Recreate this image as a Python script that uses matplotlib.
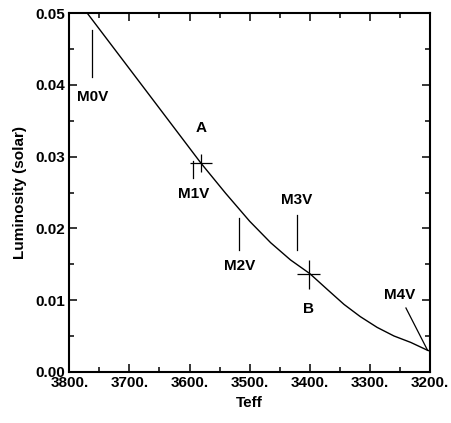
import matplotlib
matplotlib.use("Agg")
import matplotlib.pyplot as plt
from matplotlib.ticker import MultipleLocator, FormatStrFormatter

plt.rcParams['font.family'] = ['Liberation Sans', 'DejaVu Sans']
plt.rcParams['font.weight'] = 'bold'

# Main-sequence relation (Teff, Luminosity)
teff_curve = [3770, 3675, 3581, 3540, 3500, 3465, 3432, 3400, 3371, 3343, 3316, 3288, 3260, 3232, 3204, 3200]
lum_curve = [0.0500, 0.0395, 0.0291, 0.0249, 0.0210, 0.0180, 0.0156, 0.0137, 0.0115, 0.0094, 0.0077, 0.0062, 0.0050, 0.0041, 0.0030, 0.0029]

# Measured stars with error bars
star_names = ['A', 'B']
star_teff = [3581, 3402]
star_lum = [0.0291, 0.0136]
star_teff_err = [18, 19]
star_lum_err = [0.0013, 0.0020]
star_label_lum = [0.0340, 0.0087]

# Spectral type markers: vertical line (teff, lum_top, lum_bottom) and label position
sp_names = ['M0V', 'M1V', 'M2V', 'M3V']
sp_teff = [3762, 3594, 3517, 3422]
sp_lum_top = [0.0477, 0.0294, 0.0214, 0.0219]
sp_lum_bot = [0.0411, 0.0270, 0.0170, 0.0170]
sp_label_lum = [0.0383, 0.0248, 0.0148, 0.0239]

# M4V pointer
m4_teff = [3240, 3204]
m4_lum = [0.0089, 0.0030]
m4_label = ('M4V', 3251, 0.0107)

fig = plt.figure(figsize=(4.51, 4.23), dpi=100)
ax = fig.add_axes([0.1537, 0.1210, 0.7997, 0.8476])

ax.plot(teff_curve, lum_curve, color='black', lw=1.0)

for n, t, l, te, le, ll in zip(star_names, star_teff, star_lum, star_teff_err, star_lum_err, star_label_lum):
    ax.errorbar([t], [l], xerr=[te], yerr=[le], fmt='none', ecolor='black', elinewidth=0.9, capsize=0)
    ax.text(t, ll, n, ha='center', va='center', fontsize=11, fontweight='bold')

for n, t, lt, lb, ll in zip(sp_names, sp_teff, sp_lum_top, sp_lum_bot, sp_label_lum):
    ax.plot([t, t], [lt, lb], color='black', lw=0.9)
    ax.text(t, ll, n, ha='center', va='center', fontsize=11, fontweight='bold')

ax.plot(m4_teff, m4_lum, color='black', lw=0.9)
ax.text(m4_label[1], m4_label[2], m4_label[0], ha='center', va='center', fontsize=11, fontweight='bold')

ax.set_xlim(3800, 3200)
ax.set_ylim(0, 0.05)
ax.xaxis.set_major_locator(MultipleLocator(100))
ax.xaxis.set_minor_locator(MultipleLocator(50))
ax.yaxis.set_major_locator(MultipleLocator(0.01))
ax.yaxis.set_minor_locator(MultipleLocator(0.005))
ax.xaxis.set_major_formatter(FormatStrFormatter('%d.'))
ax.yaxis.set_major_formatter(FormatStrFormatter('%.2f'))

ax.tick_params(which='both', direction='in', top=True, right=True, width=1.1, labelsize=11)
ax.tick_params(which='major', length=5.8)
ax.tick_params(which='minor', length=3.6)
ax.tick_params(axis='x', pad=3)
ax.tick_params(axis='y', pad=3)
for s in ax.spines.values():
    s.set_linewidth(1.5)
for lab in ax.get_xticklabels() + ax.get_yticklabels():
    lab.set_fontweight('bold')

ax.set_xlabel('Teff', fontsize=11, fontweight='bold', labelpad=4)
ax.set_ylabel('Luminosity (solar)', fontsize=11, fontweight='bold', labelpad=6)

fig.savefig('out.png', dpi=100)
